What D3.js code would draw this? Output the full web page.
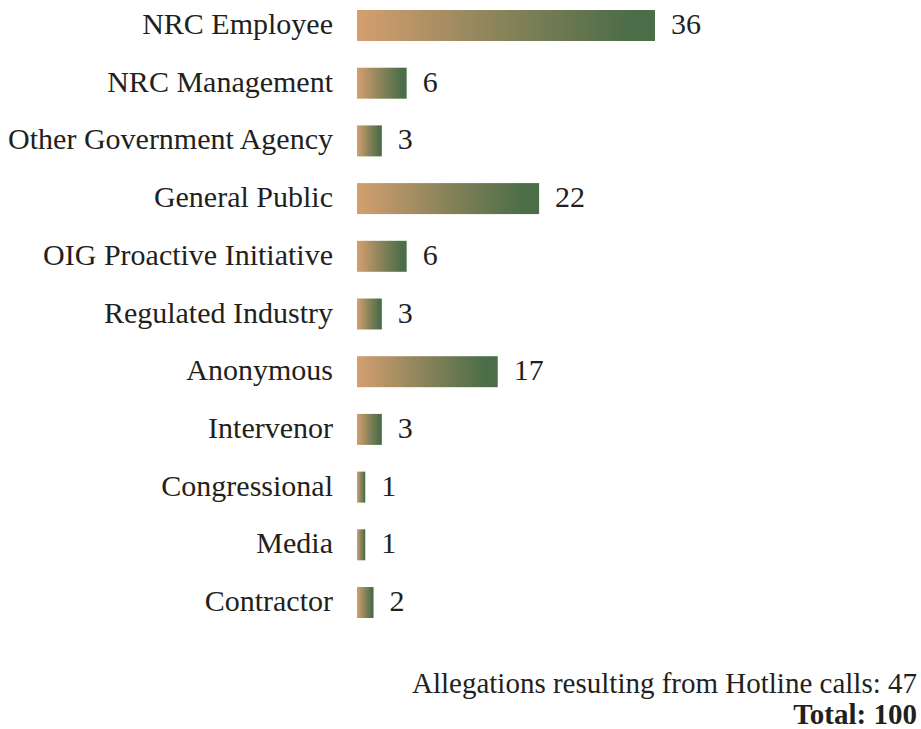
<!DOCTYPE html>
<html>
<head>
<meta charset="utf-8">
<script src="https://cdn.jsdelivr.net/npm/d3@7"></script>
<style>
  html, body { margin: 0; padding: 0; background: #fff; }
  svg { display: block; }
  text { font-family: "Liberation Serif", "DejaVu Serif", serif; fill: #231f20; }
</style>
</head>
<body>
<svg id="chart" width="921" height="729"></svg>
<script>
const categories = ["NRC Employee", "NRC Management", "Other Government Agency", "General Public",
  "OIG Proactive Initiative", "Regulated Industry", "Anonymous", "Intervenor",
  "Congressional", "Media", "Contractor"];
const values = [36, 6, 3, 22, 6, 3, 17, 3, 1, 1, 2];
const hotlineLabel = "Allegations resulting from Hotline calls: 47";
const totalLabel = "Total: 100";

const svg = d3.select("#chart");
const x0 = 357;
const x = d3.scaleLinear().domain([0, 36]).range([x0, x0 + 298]);
const y = d3.scaleBand().domain(categories).range([10, 618]).paddingInner(0.463).paddingOuter(0);

const defs = svg.append("defs");
const grad = defs.append("linearGradient").attr("id", "barGrad")
  .attr("x1", "0%").attr("x2", "100%").attr("y1", "0%").attr("y2", "0%");
grad.append("stop").attr("offset", "0%").attr("stop-color", "#d49f6f");
grad.append("stop").attr("offset", "50%").attr("stop-color", "#868259");
grad.append("stop").attr("offset", "92%").attr("stop-color", "#4b6d48");
grad.append("stop").attr("offset", "100%").attr("stop-color", "#4b6d48");

const data = categories.map((c, i) => ({ c, v: values[i] }));

svg.selectAll("rect.bar").data(data).join("rect")
  .attr("class", "bar")
  .attr("x", x(0))
  .attr("y", d => y(d.c))
  .attr("width", d => x(d.v) - x(0))
  .attr("height", y.bandwidth())
  .attr("fill", "url(#barGrad)");

svg.selectAll("text.cat").data(data).join("text")
  .attr("class", "cat")
  .attr("x", 333)
  .attr("y", d => y(d.c) + y.bandwidth() / 2 + 8.5)
  .attr("text-anchor", "end")
  .style("font-size", "30px")
  .text(d => d.c);

svg.selectAll("text.val").data(data).join("text")
  .attr("class", "val")
  .attr("x", d => x(d.v) + 16)
  .attr("y", d => y(d.c) + y.bandwidth() / 2 + 8.5)
  .style("font-size", "30px")
  .text(d => d.v);

svg.append("text")
  .attr("x", 917).attr("y", 693)
  .attr("text-anchor", "end")
  .style("font-size", "29px")
  .text(hotlineLabel);

svg.append("text")
  .attr("x", 917).attr("y", 724)
  .attr("text-anchor", "end")
  .style("font-size", "29px")
  .style("font-weight", "bold")
  .text(totalLabel);
</script>
</body>
</html>
